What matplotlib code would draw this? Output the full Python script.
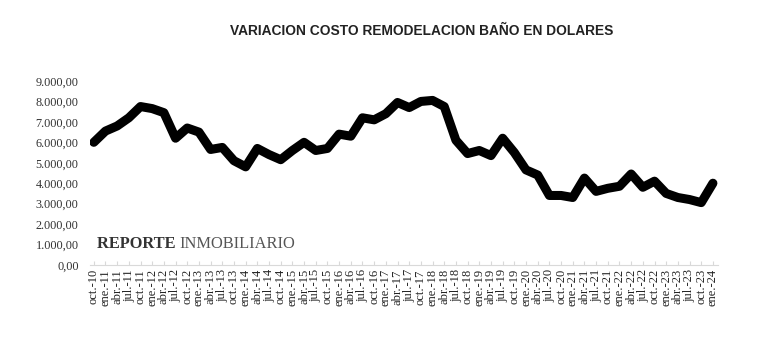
import numpy as np
import matplotlib
matplotlib.use("Agg")
import matplotlib.pyplot as plt
from matplotlib.ticker import FuncFormatter

# trimestres oct-10 .. ene-24
etiquetas = ['oct.-10']
for anio in range(11, 24):
    for m in ['ene.', 'abr.', 'jul.', 'oct.']:
        etiquetas.append(m + '-' + str(anio))
etiquetas.append('ene.-24')

# costo en dolares
costo = [6000, 6550, 6800, 7200, 7750, 7650, 7450, 6200, 6700, 6500,
         5650, 5750, 5100, 4800, 5700, 5400, 5150, 5600, 6000, 5600,
         5700, 6400, 6300, 7200, 7100, 7400, 7950, 7700, 8000, 8050,
         7750, 6100, 5450, 5600, 5350, 6200, 5500, 4650, 4400, 3400,
         3400, 3300, 4250, 3600, 3750, 3850, 4450, 3800, 4100, 3500,
         3300, 3200, 3050, 4000]

x = np.arange(len(costo))


def formato(v, pos):
    s = '{:,.2f}'.format(v)
    return s.replace(',', 'X').replace('.', ',').replace('X', '.')


fig = plt.figure(figsize=(7.8, 3.6), dpi=100)
ax = fig.add_axes([0.115, 0.264, 0.805, 0.511])
ax.plot(x, costo, color='black', lw=6.5, solid_joinstyle='round', solid_capstyle='round')

ax.set_xlim(-0.35, 53.4)
ax.set_ylim(0, 9000)
ax.set_yticks(np.arange(0, 9001, 1000))
ax.yaxis.set_major_formatter(FuncFormatter(formato))
ax.set_xticks(x)
ax.set_xticklabels(etiquetas, rotation=90, fontsize=9, family='Liberation Serif', color='#222222')
for t in ax.get_yticklabels():
    t.set_family('Liberation Serif')
    t.set_fontsize(8.8)
    t.set_color('#333333')

for lado in ['top', 'right', 'left']:
    ax.spines[lado].set_visible(False)
ax.spines['bottom'].set_color('#d9d9d9')
ax.tick_params(axis='y', length=0, pad=8)
ax.tick_params(axis='x', length=3, color='#d9d9d9', direction='in', pad=3)

fig.text(0.54, 0.915, 'VARIACION COSTO REMODELACION BAÑO EN DOLARES',
         ha='center', va='center', fontsize=9.9, fontweight='bold',
         family='Liberation Sans', color='#222222')

marca = ax.text(0.012, 0.115, 'REPORTE ', transform=ax.transAxes, fontsize=11.8,
                fontweight='bold', family='Liberation Serif', color='#333333', va='center')
ax.annotate('INMOBILIARIO', xy=(1, 0.5), xycoords=marca, fontsize=11.8,
            family='Liberation Serif', color='#555555', va='center', ha='left')

fig.savefig('out.png', dpi=100)
